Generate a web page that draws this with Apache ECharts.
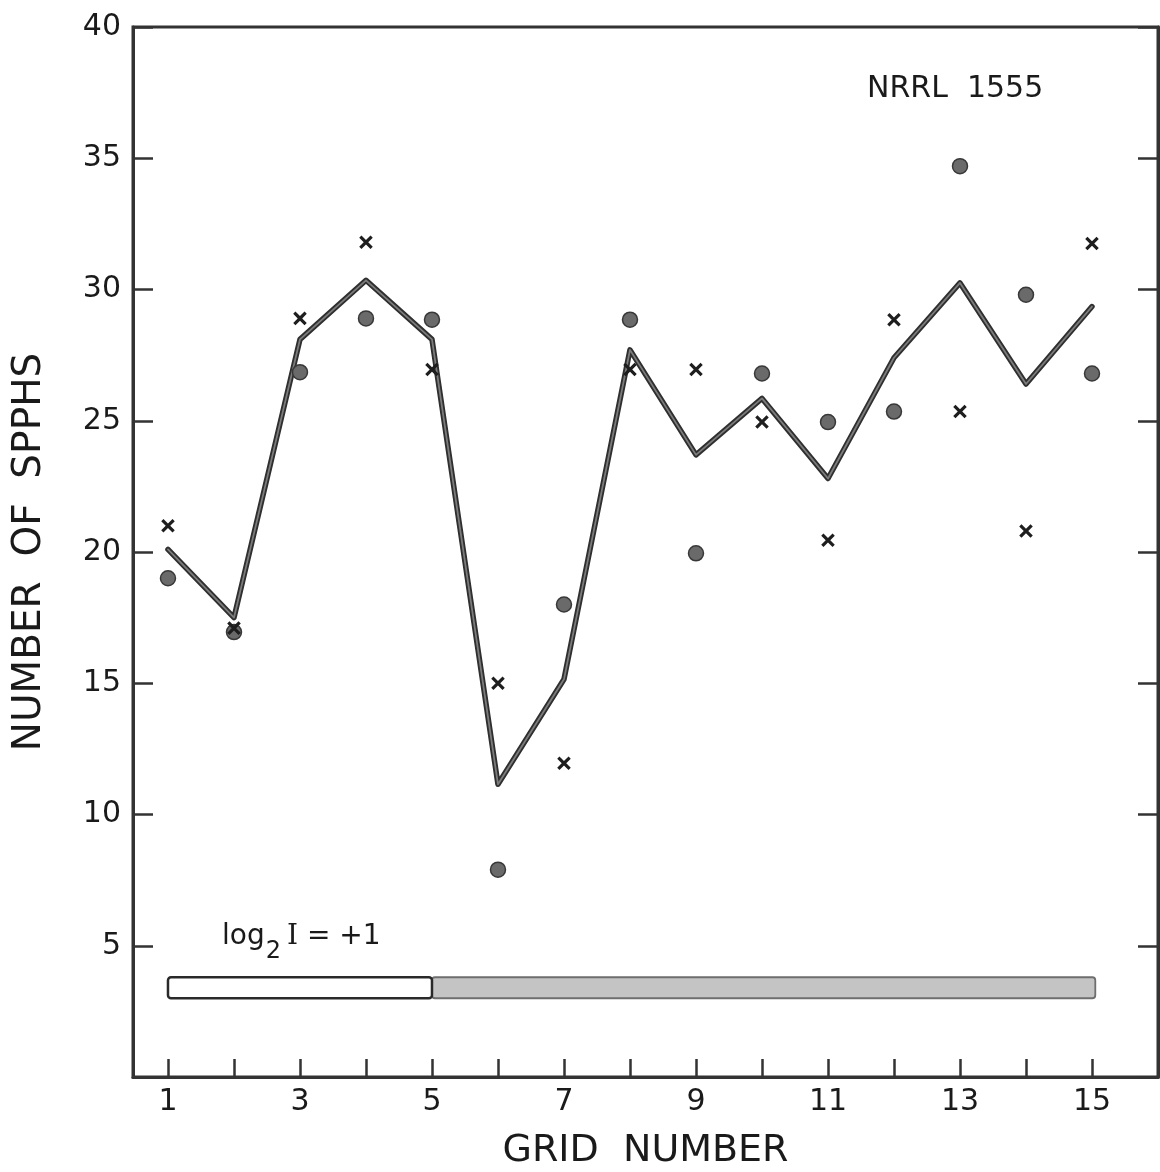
<!DOCTYPE html>
<html>
<head>
<meta charset="utf-8">
<script src="https://cdn.jsdelivr.net/npm/echarts@6/dist/echarts.min.js"></script>
<style>
  html, body { margin: 0; padding: 0; background: #ffffff; }
  #chart { width: 1160px; height: 1172px; }
</style>
</head>
<body>
<div id="chart"></div>
<script>
// ---- data ----
const gridNumbers = [1, 2, 3, 4, 5, 6, 7, 8, 9, 10, 11, 12, 13, 14, 15];
const meanLine   = [20.1, 17.5, 28.1, 30.35, 28.1, 11.15, 15.15, 27.7, 23.7, 25.85, 22.8, 27.4, 30.25, 26.4, 29.35];
const dotValues  = [19.0, 16.95, 26.85, 28.9, 28.85, 7.9, 18.0, 28.85, 19.95, 26.8, 24.95, 25.35, 34.7, 29.8, 26.8];
const crossValues = [21.0, 17.1, 28.9, 31.8, 26.95, 15.0, 11.95, 26.95, 26.95, 24.95, 20.45, 28.85, 25.35, 20.8, 31.75];
const xTickValues = [1, 2, 3, 4, 5, 6, 7, 8, 9, 10, 11, 12, 13, 14, 15];
const xLabelValues = [1, 3, 5, 7, 9, 11, 13, 15];
const yTickLabels = [5, 10, 15, 20, 25, 30, 35, 40];
// intensity bar: segments in grid-number units, bar spans y from barLow to barHigh
const barFrom = [1, 5];
const barTo   = [5, 15.05];
const barLow  = 3.0;
const barHigh = 3.8;
const barLabel = 'log2 I = +1';
const strainLabel = 'NRRL  1555';

const FONT = '"DejaVu Sans", sans-serif';
const INK = '#1a1a1a';
const AXIS = '#333333';

const chart = echarts.init(document.getElementById('chart'), null, { renderer: 'canvas' });

const pairs = (ys) => gridNumbers.map((x, i) => [x, ys[i]]);
const barData = barFrom.map((f, i) => [f, barTo[i], barLow, barHigh, i]);

const option = {
  animation: false,
  backgroundColor: '#ffffff',
  title: {
    text: strainLabel,
    left: 862,
    top: 69,
    textStyle: { fontFamily: FONT, fontSize: 30, fontWeight: 'normal', color: INK }
  },
  grid: {
    left: 133, right: 2, top: 27, bottom: 95,
    outerBoundsMode: 'none',
    containLabel: false,
    show: true, borderColor: AXIS, borderWidth: 3, backgroundColor: 'transparent'
  },
  xAxis: {
    type: 'value',
    min: 0.47, max: 16,
    name: 'GRID  NUMBER',
    nameLocation: 'middle',
    nameGap: 55,
    nameTextStyle: { fontFamily: FONT, fontSize: 38, color: INK },
    axisLine: { show: true, onZero: false, lineStyle: { color: AXIS, width: 3 } },
    axisTick: { show: true, inside: true, length: 18, customValues: xTickValues, lineStyle: { color: AXIS, width: 2.5 } },
    axisLabel: { show: true, customValues: xLabelValues, margin: 10, fontFamily: FONT, fontSize: 30, color: INK },
    splitLine: { show: false }
  },
  yAxis: [
    {
      type: 'value',
      min: 0, max: 40, interval: 5,
      position: 'left',
      name: 'NUMBER  OF  SPPHS',
      nameLocation: 'middle',
      nameGap: 84,
      nameRotate: 90,
      nameTextStyle: { fontFamily: FONT, fontSize: 39, color: INK },
      axisLine: { show: true, lineStyle: { color: AXIS, width: 3 } },
      axisTick: { show: true, inside: true, length: 20, lineStyle: { color: AXIS, width: 2.5 } },
      axisLabel: {
        show: true, margin: 12, fontFamily: FONT, fontSize: 30, color: INK,
        showMinLabel: false,
        formatter: (v) => (yTickLabels.indexOf(v) >= 0 ? String(v) : '')
      },
      splitLine: { show: false }
    },
    {
      type: 'value',
      min: 0, max: 40, interval: 5,
      position: 'right',
      axisLine: { show: true, lineStyle: { color: AXIS, width: 3 } },
      axisTick: { show: true, inside: true, length: 20, lineStyle: { color: AXIS, width: 2.5 } },
      axisLabel: { show: false },
      splitLine: { show: false }
    }
  ],
  series: [
    {
      name: 'intensity bar',
      type: 'custom',
      xAxisIndex: 0, yAxisIndex: 0,
      silent: true,
      data: barData,
      renderItem: function (params, api) {
        const p0 = api.coord([api.value(0), api.value(3)]);
        const p1 = api.coord([api.value(1), api.value(2)]);
        const idx = api.value(4);
        return {
          type: 'rect',
          shape: { x: p0[0], y: p0[1], width: p1[0] - p0[0], height: p1[1] - p0[1], r: 3 },
          style: {
            fill: idx === 0 ? '#ffffff' : '#c4c4c4',
            stroke: idx === 0 ? '#2a2a2a' : '#6e6e6e',
            lineWidth: idx === 0 ? 2.5 : 1.8
          },
          z2: idx === 0 ? 2 : 1
        };
      },
      markPoint: {
        silent: true,
        symbol: 'circle', symbolSize: 0,
        data: [{ coord: [3.02, 5.05], value: barLabel }],
        label: {
          show: true,
          position: 'inside',
          formatter: '{a|log}{s|2}{i|I}{a| = +1}',
          rich: {
            a: { fontFamily: FONT, fontSize: 28, color: INK, verticalAlign: 'top', lineHeight: 44 },
            i: { fontFamily: '"DejaVu Serif", serif', fontSize: 28, color: INK, verticalAlign: 'top', lineHeight: 44, padding: [0, 0, 0, 6] },
            s: { fontFamily: FONT, fontSize: 24, color: INK, verticalAlign: 'top', lineHeight: 44, padding: [17, 0, 0, 1] }
          }
        }
      }
    },
    {
      name: 'mean outline',
      type: 'line',
      data: pairs(meanLine),
      symbol: 'none',
      silent: true,
      lineStyle: { color: '#2f2f2f', width: 5.5, join: 'round', cap: 'round' },
      z: 3
    },
    {
      name: 'mean',
      type: 'line',
      data: pairs(meanLine),
      symbol: 'none',
      silent: true,
      lineStyle: { color: '#7c7c7c', width: 1.8, join: 'round', cap: 'round' },
      z: 4
    },
    {
      name: 'dots',
      type: 'scatter',
      data: pairs(dotValues),
      symbol: 'circle',
      symbolSize: 15,
      itemStyle: { color: '#6a6a6a', borderColor: '#383838', borderWidth: 1.5, opacity: 1 },
      z: 5
    },
    {
      name: 'crosses',
      type: 'scatter',
      data: pairs(crossValues),
      symbol: 'path://M4,0H6V4H10V6H6V10H4V6H0V4H4Z',
      symbolSize: 16,
      symbolRotate: 45,
      itemStyle: { color: '#1e1e1e', opacity: 1 },
      z: 6
    }
  ]
};

chart.setOption(option);
</script>
</body>
</html>
